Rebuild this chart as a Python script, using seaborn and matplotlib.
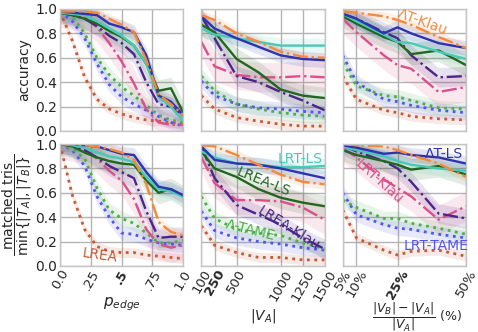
import matplotlib
matplotlib.use("Agg")
import matplotlib.pyplot as plt
import seaborn as sns
import numpy as np

# ---------------- data ----------------
methods = ["LREA", "LRT-TAME", "Λ-TAME", "LRT-Klau", "LREA-Klau",
           "LREA-LS", "LRT-LS", "ΛT-LS", "ΛT-Klau"]

colors = {"ΛT-Klau": "#f5883a", "ΛT-LS": "#2e33b0", "LRT-LS": "#48c9b6",
          "LREA-LS": "#23661f", "LRT-Klau": "#d9508a", "LREA-Klau": "#4b2688",
          "Λ-TAME": "#4caf4c", "LRT-TAME": "#5454f2", "LREA": "#c45a36"}
styles = {"ΛT-Klau": "-.", "ΛT-LS": "-", "LRT-LS": "-", "LREA-LS": "-",
          "LRT-Klau": "-.", "LREA-Klau": "-.", "Λ-TAME": ":", "LRT-TAME": ":",
          "LREA": ":"}

p_edge = [0.0, 0.1, 0.2, 0.3, 0.4, 0.5, 0.6, 0.7, 0.8, 0.9, 1.0]
n_va = [100, 250, 500, 750, 1000, 1250, 1500]
pct = [5, 10, 20, 25, 30, 40, 50]

acc_p = {
    "ΛT-Klau":   [0.98, 0.98, 0.98, 0.97, 0.92, 0.87, 0.81, 0.58, 0.30, 0.22, 0.13],
    "ΛT-LS":     [0.98, 0.97, 0.96, 0.95, 0.88, 0.85, 0.81, 0.62, 0.29, 0.24, 0.13],
    "LRT-LS":    [0.97, 0.96, 0.95, 0.90, 0.84, 0.78, 0.70, 0.55, 0.28, 0.20, 0.08],
    "LREA-LS":   [0.97, 0.95, 0.92, 0.88, 0.82, 0.77, 0.70, 0.55, 0.33, 0.35, 0.15],
    "LRT-Klau":  [0.97, 0.95, 0.93, 0.85, 0.72, 0.57, 0.39, 0.18, 0.07, 0.05, 0.05],
    "LREA-Klau": [0.97, 0.95, 0.92, 0.86, 0.78, 0.72, 0.63, 0.40, 0.22, 0.20, 0.13],
    "Λ-TAME":    [0.98, 0.94, 0.80, 0.60, 0.46, 0.36, 0.29, 0.21, 0.13, 0.09, 0.07],
    "LRT-TAME":  [0.98, 0.90, 0.76, 0.55, 0.38, 0.28, 0.22, 0.17, 0.12, 0.07, 0.04],
    "LREA":      [0.98, 0.74, 0.44, 0.26, 0.18, 0.14, 0.11, 0.09, 0.08, 0.07, 0.06],
}
tri_p = {
    "ΛT-Klau":   [1.00, 1.00, 0.99, 0.98, 0.96, 0.93, 0.87, 0.67, 0.36, 0.28, 0.25],
    "ΛT-LS":     [1.00, 1.00, 0.99, 0.98, 0.95, 0.92, 0.91, 0.77, 0.65, 0.63, 0.58],
    "LRT-LS":    [1.00, 0.99, 0.97, 0.93, 0.90, 0.88, 0.85, 0.73, 0.63, 0.61, 0.57],
    "LREA-LS":   [1.00, 0.98, 0.93, 0.89, 0.86, 0.84, 0.83, 0.70, 0.60, 0.63, 0.57],
    "LRT-Klau":  [1.00, 0.98, 0.95, 0.88, 0.78, 0.70, 0.55, 0.30, 0.18, 0.15, 0.17],
    "LREA-Klau": [1.00, 0.99, 0.95, 0.89, 0.82, 0.77, 0.72, 0.45, 0.23, 0.24, 0.24],
    "Λ-TAME":    [1.00, 0.96, 0.88, 0.64, 0.46, 0.39, 0.35, 0.27, 0.19, 0.19, 0.21],
    "LRT-TAME":  [1.00, 0.95, 0.82, 0.57, 0.40, 0.27, 0.26, 0.22, 0.19, 0.18, 0.17],
    "LREA":      [1.00, 0.58, 0.30, 0.16, 0.12, 0.11, 0.11, 0.09, 0.08, 0.07, 0.06],
}
acc_n = {
    "ΛT-Klau":   [0.95, 0.91, 0.80, 0.73, 0.65, 0.61, 0.60],
    "ΛT-LS":     [0.94, 0.84, 0.76, 0.69, 0.62, 0.59, 0.58],
    "LRT-LS":    [0.84, 0.79, 0.76, 0.73, 0.70, 0.70, 0.70],
    "LREA-LS":   [0.87, 0.81, 0.59, 0.48, 0.34, 0.29, 0.27],
    "LRT-Klau":  [0.73, 0.53, 0.46, 0.44, 0.44, 0.45, 0.44],
    "LREA-Klau": [0.94, 0.76, 0.45, 0.40, 0.32, 0.25, 0.17],
    "Λ-TAME":    [0.45, 0.33, 0.22, 0.18, 0.15, 0.13, 0.12],
    "LRT-TAME":  [0.41, 0.29, 0.22, 0.19, 0.18, 0.16, 0.15],
    "LREA":      [0.29, 0.18, 0.11, 0.08, 0.055, 0.04, 0.04],
}
tri_n = {
    "ΛT-Klau":   [0.99, 0.98, 0.91, 0.83, 0.75, 0.69, 0.67],
    "ΛT-LS":     [0.98, 0.87, 0.84, 0.83, 0.80, 0.76, 0.72],
    "LRT-LS":    [0.94, 0.89, 0.84, 0.83, 0.81, 0.81, 0.82],
    "LREA-LS":   [0.94, 0.80, 0.73, 0.63, 0.56, 0.52, 0.49],
    "LRT-Klau":  [0.89, 0.68, 0.54, 0.54, 0.53, 0.48, 0.38],
    "LREA-Klau": [0.98, 0.72, 0.50, 0.42, 0.34, 0.23, 0.14],
    "Λ-TAME":    [0.57, 0.39, 0.30, 0.27, 0.25, 0.19, 0.14],
    "LRT-TAME":  [0.45, 0.29, 0.23, 0.20, 0.18, 0.15, 0.13],
    "LREA":      [0.33, 0.17, 0.11, 0.07, 0.07, 0.05, 0.05],
}
acc_pct = {
    "ΛT-Klau":   [0.98, 0.97, 0.94, 0.91, 0.87, 0.77, 0.68],
    "ΛT-LS":     [0.96, 0.92, 0.80, 0.85, 0.80, 0.72, 0.68],
    "LRT-LS":    [0.96, 0.90, 0.79, 0.73, 0.72, 0.65, 0.59],
    "LREA-LS":   [0.94, 0.88, 0.77, 0.73, 0.63, 0.66, 0.54],
    "LRT-Klau":  [0.92, 0.81, 0.62, 0.54, 0.51, 0.32, 0.36],
    "LREA-Klau": [0.96, 0.92, 0.81, 0.76, 0.62, 0.44, 0.45],
    "Λ-TAME":    [0.56, 0.37, 0.29, 0.28, 0.25, 0.19, 0.18],
    "LRT-TAME":  [0.62, 0.40, 0.26, 0.24, 0.21, 0.17, 0.15],
    "LREA":      [0.45, 0.26, 0.17, 0.15, 0.12, 0.10, 0.09],
}
tri_pct = {
    "ΛT-Klau":   [1.00, 0.99, 0.98, 0.95, 0.91, 0.84, 0.73],
    "ΛT-LS":     [0.99, 0.97, 0.92, 0.93, 0.91, 0.89, 0.84],
    "LRT-LS":    [0.98, 0.95, 0.90, 0.86, 0.83, 0.80, 0.78],
    "LREA-LS":   [0.95, 0.91, 0.86, 0.83, 0.79, 0.82, 0.75],
    "LRT-Klau":  [0.97, 0.89, 0.71, 0.64, 0.57, 0.38, 0.49],
    "LREA-Klau": [0.99, 0.94, 0.86, 0.80, 0.69, 0.43, 0.39],
    "Λ-TAME":    [0.54, 0.48, 0.39, 0.39, 0.35, 0.31, 0.26],
    "LRT-TAME":  [0.60, 0.42, 0.34, 0.31, 0.30, 0.26, 0.23],
    "LREA":      [0.46, 0.23, 0.13, 0.09, 0.12, 0.13, 0.08],
}

# half-width of the shaded spread band, per method
spread = {"ΛT-Klau": 0.04, "ΛT-LS": 0.06, "LRT-LS": 0.06, "LREA-LS": 0.09,
          "LRT-Klau": 0.12, "LREA-Klau": 0.08, "Λ-TAME": 0.06,
          "LRT-TAME": 0.06, "LREA": 0.04}

in_panel_labels = [
    # (row, col, text, method, x, y, rotation)
    (0, 2, "ΛT-Klau", "ΛT-Klau", 34.3, 0.89, -20),
    (1, 0, "LREA", "LREA", 0.325, 0.09, -8),
    (1, 1, "LRT-LS", "LRT-LS", 1226, 0.88, 0),
    (1, 1, "LREA-LS", "LREA-LS", 805, 0.69, -22),
    (1, 1, "LREA-Klau", "LREA-Klau", 1090, 0.31, -32),
    (1, 1, "Λ-TAME", "Λ-TAME", 657, 0.29, -14),
    (1, 2, "ΛT-LS", "ΛT-LS", 42, 0.92, 0),
    (1, 2, "LRT-Klau", "LRT-Klau", 18.2, 0.69, -42),
    (1, 2, "LRT-TAME", "LRT-TAME", 39, 0.16, 0),
]

# ---------------- style ----------------
sns.set_style("whitegrid", {"grid.color": "#b4b4b4", "axes.edgecolor": "#c4c4c4"})
plt.rcParams["font.family"] = ["DejaVu Sans"]
plt.rcParams["font.size"] = 10

fig, axes = plt.subplots(2, 3, figsize=(4.78, 3.32), dpi=100, sharey=True)
fig.subplots_adjust(left=60/478, right=466/478, top=1-9/332, bottom=1-266/332,
                    wspace=0.147, hspace=0.107)

panels = [
    [(p_edge, acc_p), (n_va, acc_n), (pct, acc_pct)],
    [(p_edge, tri_p), (n_va, tri_n), (pct, tri_pct)],
]

for r in range(2):
    for c in range(3):
        ax = axes[r, c]
        xs, data = panels[r][c]
        for m in methods:
            ys = np.array(data[m])
            lo = np.clip(ys - spread[m], 0, 1)
            hi = np.clip(ys + spread[m], 0, 1)
            ax.fill_between(xs, lo, hi, color=colors[m], alpha=0.13, lw=0)
        for m in methods:
            lw = 2.0 if styles[m] == ":" else 1.7
            sns.lineplot(x=xs, y=data[m], ax=ax, color=colors[m],
                         linestyle=styles[m], lw=lw, legend=False)
        ax.set_ylim(0, 1)
        ax.set_yticks([0, 0.2, 0.4, 0.6, 0.8, 1.0])
        ax.grid(True, lw=1.0)
        for s in ax.spines.values():
            s.set_linewidth(1.0)
        ax.tick_params(axis="y", length=0, pad=2, labelsize=10)
        ax.tick_params(axis="x", length=0, pad=1, labelsize=9.5)

xt_p = [0.0, 0.25, 0.5, 0.75, 1.0]
xt_p_lab = ["0.0", ".25", ".5", ".75", "1.0"]
xt_n = [100, 250, 500, 1000, 1250, 1500]
xt_n_lab = ["100", "250", "500", "1000", "1250", "1500"]
xt_pct = [5, 10, 25, 50]
xt_pct_lab = ["5%", "10%", "25%", "50%"]
ticks = [(xt_p, xt_p_lab, (0, 1), ".5"),
         (xt_n, xt_n_lab, (100, 1500), "250"),
         (xt_pct, xt_pct_lab, (5, 50), "25%")]

for c in range(3):
    tv, tl, lim, bold = ticks[c]
    for r in range(2):
        ax = axes[r, c]
        ax.set_xlim(*lim)
        ax.set_xticks(tv)
        if r == 0:
            ax.set_xticklabels([])
        else:
            ax.set_xticklabels(tl, rotation=60)
            for t in ax.get_xticklabels():
                if t.get_text() == bold:
                    t.set_fontweight("bold")
        ax.set_xlabel("")
        ax.set_ylabel("")

axes[0, 0].set_ylabel("accuracy", fontsize=10, labelpad=3)
axes[1, 0].set_ylabel(r"$\dfrac{\mathrm{matched\ tris}}{\min\{|T_A|,|T_B|\}}$",
                      fontsize=10, labelpad=1)
axes[1, 0].set_xlabel(r"$p_{edge}$", fontsize=11, labelpad=2)
axes[1, 1].set_xlabel(r"$|V_A|$", fontsize=10, labelpad=3)
xl = axes[1, 2].set_xlabel(r"$\dfrac{|V_B|-|V_A|}{|V_A|}$ (%)", fontsize=9)
xl.set_va("top")
axes[1, 2].xaxis.set_label_coords(0.6, -0.283)

for r, c, txt, m, x, y, rot in in_panel_labels:
    axes[r, c].text(x, y, txt, color=colors[m], fontsize=10, rotation=rot,
                    ha="center", va="center", rotation_mode="anchor", zorder=5)

fig.savefig("out.png", dpi=100)
